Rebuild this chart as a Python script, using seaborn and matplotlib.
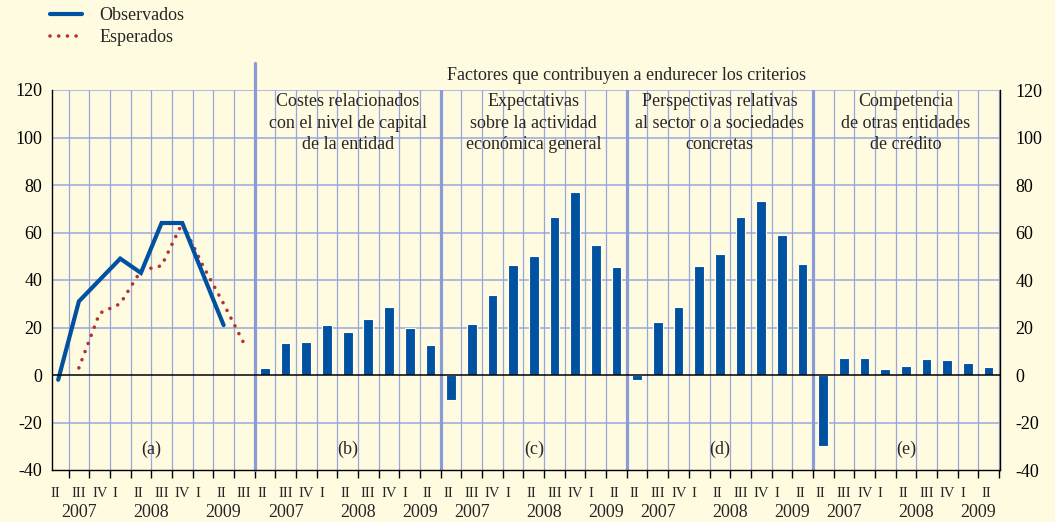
import numpy as np
import pandas as pd
import matplotlib
matplotlib.use('Agg')
import matplotlib.pyplot as plt
import seaborn as sns

##Datos (porcentaje neto de entidades)
trimestres = ['II', 'III', 'IV', 'I', 'II', 'III', 'IV', 'I', 'II', 'III']  #II 2007 .. III 2009
observados = [-2, 31, 40, 49, 43, 64, 64, 42.5, 21, np.nan]
esperados = [np.nan, 3, 26, 30, 44, 46, 64, 46, 30, 13]

costes_capital = [3, 13.3, 13.8, 21, 18.3, 23.5, 28.5, 20, 12.5]
expectativas_actividad = [-10.4, 21.3, 33.6, 46.4, 50, 66.5, 76.9, 54.7, 45.3]
perspectivas_sector = [-2.3, 22.4, 28.5, 46.1, 51, 66.6, 73.1, 59.1, 46.7]
competencia_entidades = [-30, 7, 7, 2.6, 3.9, 6.6, 6.4, 5, 3.4]

titulos = ['Costes relacionados\ncon el nivel de capital\nde la entidad',
           'Expectativas\nsobre la actividad\neconómica general',
           'Perspectivas relativas\nal sector o a sociedades\nconcretas',
           'Competencia\nde otras entidades\nde crédito']
letras = ['(a)', '(b)', '(c)', '(d)', '(e)']
titulo_factores = 'Factores que contribuyen a endurecer los criterios'

##Estilo
sns.set_theme(style='white')
plt.rcParams['font.family'] = ['Liberation Serif', 'DejaVu Serif']
plt.rcParams['axes.unicode_minus'] = False

fondo = '#fffbe1'
azul = '#0052a0'
rojo = '#b03434'
rejilla = '#97a6dc'
separador = '#8b9bd6'
fs = 13

fig = plt.figure(figsize=(10.55, 5.22), dpi=100, facecolor=fondo)
ax = fig.add_axes([52/1055, 1 - 470/522, 948/1055, 380/522])
ax.set_facecolor(fondo)

inicios = [0, 10, 19, 28, 37]
anchos = [10, 9, 9, 9, 9]

##Panel (a): lineas
df_a = pd.DataFrame({'pos': np.arange(len(trimestres)) + 0.5,
                     'Observados': observados, 'Esperados': esperados})
sns.lineplot(data=df_a, x='pos', y='Esperados', color=rojo, lw=2.6,
             linestyle=(0, (0.01, 2.4)), dash_capstyle='round',
             label='Esperados', ax=ax, zorder=4)
sns.lineplot(data=df_a, x='pos', y='Observados', color=azul, lw=3,
             solid_joinstyle='miter', label='Observados', ax=ax, zorder=5)

##Paneles (b)-(e): barras
series = [costes_capital, expectativas_actividad, perspectivas_sector, competencia_entidades]
filas = []
for ini, serie in zip(inicios[1:], series):
    for i, v in enumerate(serie):
        filas.append({'pos': ini + i + 0.5, 'valor': v})
df_b = pd.DataFrame(filas)
sns.barplot(data=df_b, x='pos', y='valor', native_scale=True, width=0.47,
            color=azul, saturation=1, edgecolor='white', linewidth=0.8,
            errorbar=None, ax=ax, zorder=3)

leg = ax.get_legend()
if leg is not None:
    leg.remove()

##Ejes
ax.set_xlim(0.2, 46.05)
ax.set_ylim(-40, 120)
ax.set_yticks(range(-40, 121, 20))
ax.set_xticks(range(1, 47))
ax.set_xticklabels([])
ax.set_xlabel('')
ax.set_ylabel('')
ax.grid(False)
ax.tick_params(axis='x', bottom=True, length=6, width=1, color='black', direction='out')
ax.tick_params(axis='y', left=False, right=False, length=0, pad=7,
               labelsize=fs, labelcolor='black')
for side in ['left', 'right', 'bottom']:
    ax.spines[side].set_color('black')
    ax.spines[side].set_linewidth(1)
ax.spines['top'].set_visible(False)

#etiquetas del eje derecho
ax2 = ax.twinx()
ax2.set_ylim(ax.get_ylim())
ax2.set_yticks(range(-40, 121, 20))
ax2.tick_params(axis='y', right=False, length=0, pad=11, labelsize=fs, labelcolor='black')
for side in ax2.spines:
    ax2.spines[side].set_visible(False)
ax2.grid(False)

#rejilla
for y in range(-20, 121, 20):
    if y != 0:
        ax.axhline(y, color='#a9b5de', lw=1.3, zorder=0)
for k in range(1, 47):
    if k not in inicios:
        ax.axvline(k, color=rejilla, lw=0.9, zorder=0)
ax.axhline(0, color='black', lw=1.1, zorder=6)

#separadores entre paneles
ax.plot([10, 10], [-40, 131.5], color=separador, lw=2.3, clip_on=False, zorder=1)
for k in inicios[2:]:
    ax.plot([k, k], [-40, 120], color=separador, lw=2.3, zorder=1)

##Textos
for ini, ancho, letra in zip(inicios, anchos, letras):
    ax.text(ini + ancho / 2, -31.5, letra, ha='center', va='center', fontsize=fs)
    for i in range(ancho):
        ax.text(ini + i + 0.14, -50, trimestres[i], ha='left', va='center',
                fontsize=10.5, clip_on=False)
    fin_2009 = 8.5 if ancho == 10 else 8
    for x, anio in zip([1.5, 5, fin_2009], ['2007', '2008', '2009']):
        ax.text(ini + x, -57.8, anio, ha='center', va='center', fontsize=fs, clip_on=False)

for ini, titulo in zip(inicios[1:], titulos):
    ax.text(ini + 4.5, 118.6, titulo, ha='center', va='top', fontsize=fs,
            linespacing=1.33)
ax.text(28, 126, titulo_factores, ha='center', va='center', fontsize=fs, clip_on=False)

##Leyenda
handles, labels = ax.get_legend_handles_labels()
orden = [labels.index('Observados'), labels.index('Esperados')]
fig.legend([handles[i] for i in orden], [labels[i] for i in orden],
           loc='upper left', bbox_to_anchor=(50/1055, 1 - 7/522), frameon=False,
           fontsize=fs, handlelength=1.75, handletextpad=1.0, labelspacing=0.3,
           borderaxespad=0, borderpad=0)

fig.savefig('out.png', dpi=100, facecolor=fondo)
